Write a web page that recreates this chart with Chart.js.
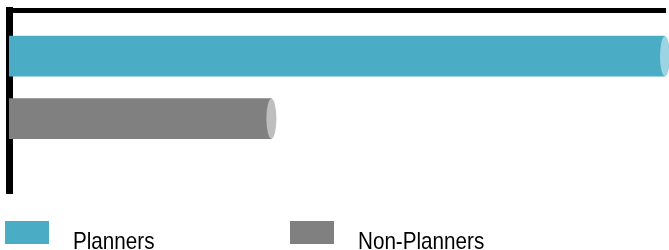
<!DOCTYPE html>
<html>
<head>
<meta charset="utf-8">
<script src="https://cdn.jsdelivr.net/npm/chart.js@4"></script>
<style>
  html, body { margin: 0; padding: 0; background: #fff; }
  #wrap { width: 669px; height: 250px; position: relative; }
</style>
</head>
<body>
<div id="wrap"><canvas id="chart"></canvas></div>
<script>
// chart data
const seriesNames = ['Planners', 'Non-Planners'];
const seriesValues = [100, 40];
const seriesColors = ['#4BACC6', '#808080'];
const capColors = ['#9DD4E3', '#BEBEBE'];

// light ellipse at the end of each bar, like a cylinder face
const cylinderCaps = {
  id: 'cylinderCaps',
  afterDatasetsDraw(chart) {
    const ctx = chart.ctx;
    chart.data.datasets.forEach((ds, i) => {
      chart.getDatasetMeta(i).data.forEach(bar => {
        const {x, y, height} = bar.getProps(['x', 'y', 'height'], true);
        ctx.save();
        ctx.fillStyle = capColors[i];
        ctx.beginPath();
        ctx.ellipse(x, y, 5, height / 2, 0, 0, Math.PI * 2);
        ctx.fill();
        ctx.restore();
      });
    });
  }
};

// legend laid out like the original (box, then narrow text further right)
const boxLegend = {
  id: 'boxLegend',
  afterDraw(chart, args, opts) {
    const ctx = chart.ctx;
    ctx.save();
    ctx.font = opts.font;
    ctx.textBaseline = 'alphabetic';
    chart.data.datasets.forEach((ds, i) => {
      const x = opts.xs[i];
      ctx.fillStyle = ds.backgroundColor;
      ctx.fillRect(x, opts.boxTop, 44, 23);
      ctx.save();
      ctx.translate(x + 68, opts.baseline);
      ctx.scale(0.86, 1);
      ctx.fillStyle = '#000';
      ctx.fillText(ds.label, 0, 0);
      ctx.restore();
    });
    ctx.restore();
  }
};

new Chart(document.getElementById('chart'), {
  type: 'bar',
  data: {
    datasets: seriesNames.map((name, i) => ({
      label: name,
      data: [{x: seriesValues[i], y: i}],
      backgroundColor: seriesColors[i],
      borderWidth: 0,
      grouped: false,
      barThickness: 40
    }))
  },
  options: {
    indexAxis: 'y',
    responsive: true,
    maintainAspectRatio: false,
    animation: false,
    layout: { padding: { left: 9, top: 10.5, right: 4, bottom: 57 } },
    plugins: {
      legend: { display: false },
      tooltip: { enabled: false },
      boxLegend: {
        xs: [5, 290],
        boxTop: 221,
        baseline: 249,
        font: '24px "Liberation Sans", Arial, sans-serif'
      }
    },
    scales: {
      x: {
        type: 'linear',
        position: 'top',
        min: 0,
        max: 100,
        grid: { display: false, drawTicks: false },
        ticks: { display: false },
        border: { display: true, color: '#000', width: 5 }
      },
      y: {
        type: 'linear',
        reverse: true,
        offset: false,
        min: -0.73,
        max: 2.19,
        grid: { display: false, drawTicks: false },
        ticks: { display: false },
        border: { display: true, color: '#000', width: 7 }
      }
    }
  },
  plugins: [cylinderCaps, boxLegend]
});
</script>
</body>
</html>
